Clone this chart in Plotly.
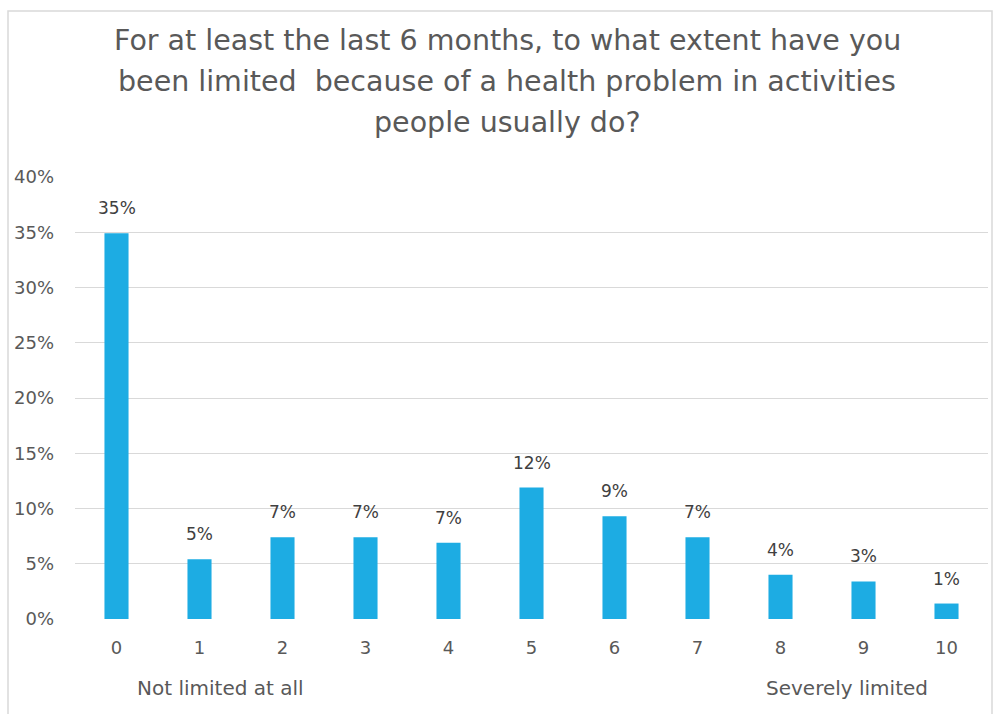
import plotly.graph_objects as go

categories = ["0", "1", "2", "3", "4", "5", "6", "7", "8", "9", "10"]
values = [34.9, 5.4, 7.4, 7.4, 6.9, 11.9, 9.3, 7.4, 4.0, 3.4, 1.4]
data_labels = [f"{round(v)}%" for v in values]
y_ticks = [0, 5, 10, 15, 20, 25, 30, 35, 40]
y_tick_labels = [f"{t}%" for t in y_ticks]
title_lines = [
    "For at least the last 6 months, to what extent have you",
    "been limited  because of a health problem in activities",
    "people usually do?",
]
end_labels = [("Not limited at all", 1.25), ("Severely limited", 8.8)]

W, H = 997, 714
L, R, T, B = 75, 9, 177, 95
FONT = "DejaVu Sans"
BAR = "#1DACE3"

fig = go.Figure()
fig.add_trace(go.Bar(
    x=categories, y=values, marker=dict(color=BAR, line=dict(width=0)),
    width=0.29, hoverinfo="skip", showlegend=False,
))

plot_h = H - T - B
plot_w = W - L - R

annotations = []
for c, v, t in zip(categories, values, data_labels):
    annotations.append(dict(x=c, y=v, xref="x", yref="y", text=t, showarrow=False,
                            yanchor="middle", yshift=25,
                            font=dict(family=FONT, size=17, color="#404040")))
for text, xpos in end_labels:
    annotations.append(dict(x=xpos, y=0, xref="x", yref="paper", text=text, showarrow=False,
                            yanchor="middle", yshift=-69,
                            font=dict(family=FONT, size=20, color="#595959")))
title_y = [40, 81, 122]
for line, yy in zip(title_lines, title_y):
    annotations.append(dict(x=(507 - L) / plot_w, y=(H - yy - B) / plot_h,
                            xref="paper", yref="paper",
                            text=line, showarrow=False, xanchor="center", yanchor="middle",
                            font=dict(family=FONT, size=28.5, color="#595959")))

fig.update_layout(
    width=W, height=H,
    margin=dict(l=L, r=R, t=T, b=B),
    paper_bgcolor="white", plot_bgcolor="white",
    annotations=annotations,
    shapes=[dict(type="rect", xref="paper", yref="paper",
                 x0=(8 - L) / plot_w, x1=(992 - L) / plot_w,
                 y0=(H - 720 - B) / plot_h, y1=(H - 11 - B) / plot_h,
                 line=dict(color="#D9D9D9", width=1.5), fillcolor="rgba(0,0,0,0)",
                 layer="below")],
    xaxis=dict(type="category", range=[-0.5, 10.5], showgrid=False, zeroline=False,
               showline=False, ticks="", ticklabelstandoff=16,
               tickfont=dict(family=FONT, size=18, color="#595959")),
    yaxis=dict(range=[0, 40], tickvals=y_ticks, ticktext=y_tick_labels,
               showgrid=True, gridcolor="#D9D9D9", gridwidth=1.3, zeroline=False,
               showline=False, ticks="", ticklabelstandoff=20,
               tickfont=dict(family=FONT, size=18, color="#595959")),
)

fig.write_html("out.html", config={"displayModeBar": False},
               post_script="document.body.style.margin='0';document.body.style.overflow='hidden';")
